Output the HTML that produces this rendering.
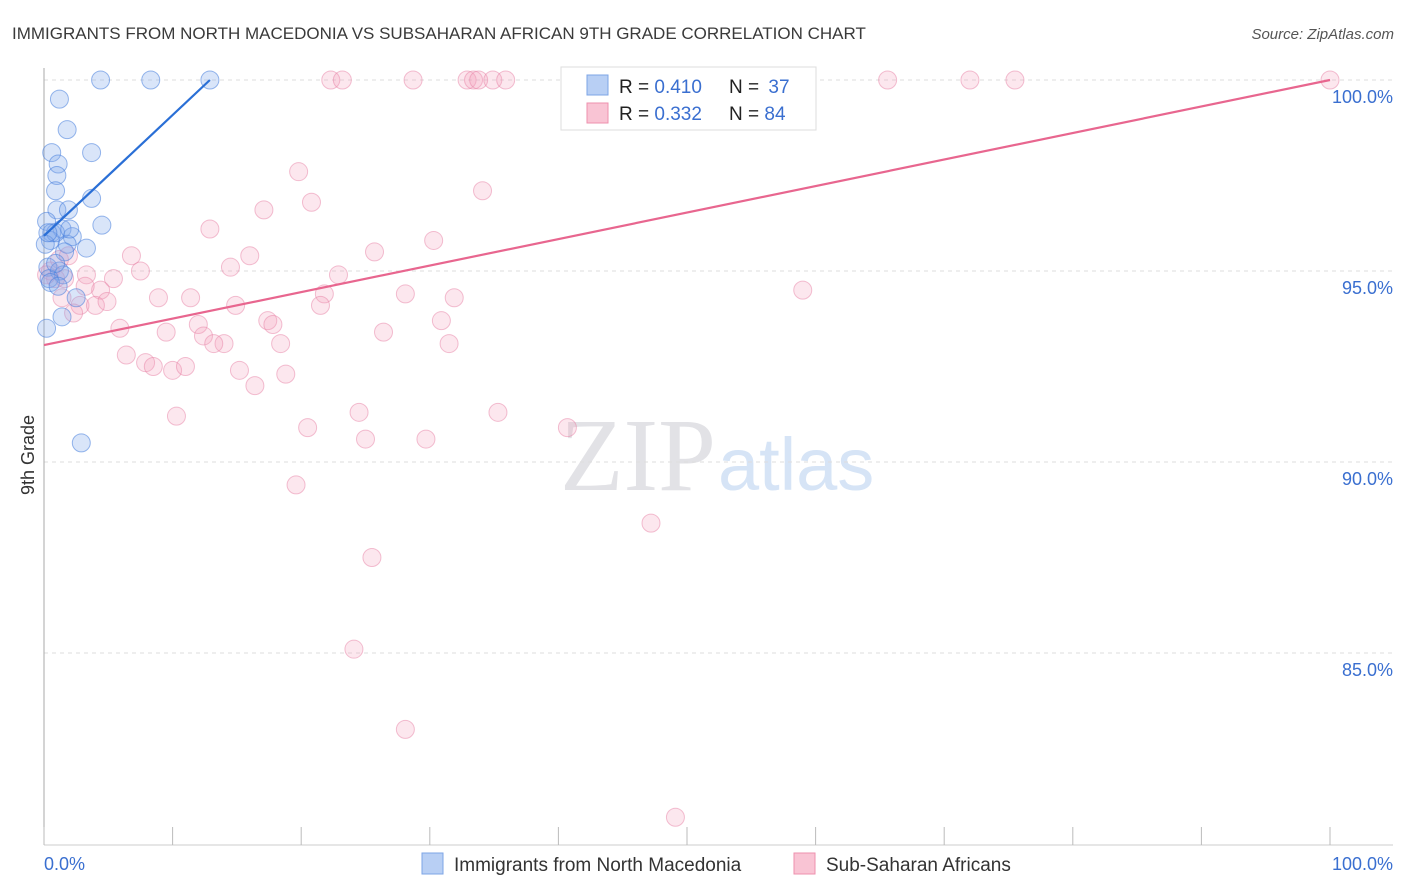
<!DOCTYPE html>
<html><head><meta charset="utf-8"><style>
body{margin:0;background:#fff;font-family:"Liberation Sans",sans-serif;}
svg{display:block}
</style></head><body>
<svg id="chart" width="1406" height="892">
<text x="12" y="39" font-size="17" fill="#3a3a3a">IMMIGRANTS FROM NORTH MACEDONIA VS SUBSAHARAN AFRICAN 9TH GRADE CORRELATION CHART</text>
<text x="1394" y="39" font-size="15" fill="#555" text-anchor="end" font-style="italic">Source: ZipAtlas.com</text>
<text x="716" y="490" font-size="104" fill="#e2e2e6" text-anchor="end" font-family="Liberation Serif">ZIP</text>
<text x="718" y="490" font-size="74" fill="#d6e4f6">atlas</text>
<g id="grid"></g>
<g id="axes"></g>
<g id="pts"></g>
<g id="lines"></g>
<text transform="translate(34,455) rotate(-90)" font-size="18" fill="#333" text-anchor="middle">9th Grade</text>
<text x="44" y="870" font-size="18" fill="#3a6fd0">0.0%</text>
<text x="1393" y="870" font-size="18" fill="#3a6fd0" text-anchor="end">100.0%</text>
<g>
<rect x="561" y="67" width="255" height="63" fill="#fff" stroke="#ddd"/>
<rect x="587" y="75" width="21" height="20" fill="#b8cff4" stroke="#7da4e6"/>
<rect x="587" y="103" width="21" height="20" fill="#f9c4d4" stroke="#ee90ae"/>
<text x="619" y="93" font-size="19" fill="#222">R = <tspan fill="#3a6fd0">0.410</tspan></text>
<text x="729" y="93" font-size="19" fill="#222">N = <tspan fill="#3a6fd0" dx="4">37</tspan></text>
<text x="619" y="120" font-size="19" fill="#222">R = <tspan fill="#3a6fd0">0.332</tspan></text>
<text x="729" y="120" font-size="19" fill="#222">N = <tspan fill="#3a6fd0">84</tspan></text>
</g>
<g>
<rect x="422" y="853" width="21" height="21" fill="#b8cff4" stroke="#7da4e6"/>
<text x="454" y="871" font-size="19" fill="#333">Immigrants from North Macedonia</text>
<rect x="794" y="853" width="21" height="21" fill="#f9c4d4" stroke="#ee90ae"/>
<text x="826" y="871" font-size="19" fill="#333">Sub-Saharan Africans</text>
</g>
</svg>
<script>
const yTicks=[100,95,90,85];
const yTickLabels=["100.0%","95.0%","90.0%","85.0%"];
const blueX=[4.4,8.3,12.9,1.2,1.8,3.7,0.6,1.1,1.0,0.9,3.7,1.0,1.9,0.2,4.5,0.6,1.4,2.2,1.8,3.3,0.5,0.3,1.2,1.5,0.4,2.5,1.4,0.2,2.9,0.9,1.6,0.1,0.5,1.1,2.0,0.3,0.9];
const blueY=[100,100,100,99.5,98.7,98.1,98.1,97.8,97.5,97.1,96.9,96.6,96.6,96.3,96.2,96.0,96.1,95.9,95.7,95.6,95.8,95.1,95.0,94.9,94.8,94.3,93.8,93.5,90.5,96.0,95.5,95.7,94.7,94.6,96.1,96.0,95.2];
const pinkX=[22.3,23.2,28.7,32.9,33.4,33.8,34.9,35.9,65.6,72.0,75.5,100,19.8,34.1,20.8,17.1,12.9,30.3,25.7,16.0,6.8,7.5,14.5,22.9,3.3,5.4,4.4,8.9,11.4,21.8,28.1,31.9,59.0,2.8,4.0,4.9,14.9,21.5,2.3,30.9,5.9,9.5,12.0,17.4,17.8,26.4,12.4,14.0,13.2,18.4,31.5,6.4,7.9,8.5,10.0,11.0,15.2,18.8,16.4,24.5,35.3,10.3,20.5,25.0,29.7,40.7,19.6,47.2,25.5,24.1,28.1,49.1,0.5,1.2,1.9,0.9,0.2,42.4,45.6,52.4,41.7,1.4,1.6,3.2];
const pinkY=[100,100,100,100,100,100,100,100,100,100,100,100,97.6,97.1,96.8,96.6,96.1,95.8,95.5,95.4,95.4,95.0,95.1,94.9,94.9,94.8,94.5,94.3,94.3,94.4,94.4,94.3,94.5,94.1,94.1,94.2,94.1,94.1,93.9,93.7,93.5,93.4,93.6,93.7,93.6,93.4,93.3,93.1,93.1,93.1,93.1,92.8,92.6,92.5,92.4,92.5,92.4,92.3,92.0,91.3,91.3,91.2,90.9,90.6,90.6,90.9,89.4,88.4,87.5,85.1,83.0,80.7,95.0,95.3,95.4,94.8,94.9,100,100,100,99.1,94.3,94.8,94.6];
const blueTrend=[[0,95.92],[12.9,100]];
const pinkTrend=[[0,93.06],[100,100]];
const X0=44,X1=1330,Y100=80,PX5=191;
const xs=v=>X0+(X1-X0)*v/100;
const ys=v=>Y100+(100-v)*PX5/5;
const NS="http://www.w3.org/2000/svg";
function mk(t,a,p){const e=document.createElementNS(NS,t);for(const k in a)e.setAttribute(k,a[k]);p.appendChild(e);return e;}
const grid=document.getElementById('grid'),axes=document.getElementById('axes'),pts=document.getElementById('pts'),lines=document.getElementById('lines');
yTicks.forEach((t,i)=>{
 const l=mk('line',{x1:X0,x2:1393,y1:ys(t),y2:ys(t),stroke:'#ddd','stroke-dasharray':'4,4'},grid);
 
 
 const tx=mk('text',{x:1393,y:ys(t)+23,'font-size':18,fill:'#3a6fd0','text-anchor':'end'},axes);
 tx.textContent=yTickLabels[i];
 
 
});
const ax=mk('line',{x1:X0,x2:X0,y1:68,y2:845,stroke:'#aaa'},axes);


const bx=mk('line',{x1:X0,x2:1393,y1:845,y2:845,stroke:'#ccc'},axes);


for(let i=0;i<=10;i++){
 const t=mk('line',{x1:xs(i*10),x2:xs(i*10),y1:827,y2:845,stroke:'#bbb'},axes);
 
 
}
pinkX.forEach((x,i)=>{
 const c=mk('circle',{cx:xs(x),cy:ys(pinkY[i]),r:9,fill:'rgba(244,160,188,0.25)',stroke:'rgba(232,130,165,0.5)'},pts);
 
 
});
blueX.forEach((x,i)=>{
 const c=mk('circle',{cx:xs(x),cy:ys(blueY[i]),r:9,fill:'rgba(130,170,235,0.3)',stroke:'rgba(70,125,220,0.55)'},pts);
 
 
});
const bl=mk('line',{x1:xs(blueTrend[0][0]),y1:ys(blueTrend[0][1]),x2:xs(blueTrend[1][0]),y2:ys(blueTrend[1][1]),stroke:'#2a6fd6','stroke-width':2.2},lines);


const pl=mk('line',{x1:xs(pinkTrend[0][0]),y1:ys(pinkTrend[0][1]),x2:xs(pinkTrend[1][0]),y2:ys(pinkTrend[1][1]),stroke:'#e8668f','stroke-width':2.2},lines);


</script>
</body></html>
